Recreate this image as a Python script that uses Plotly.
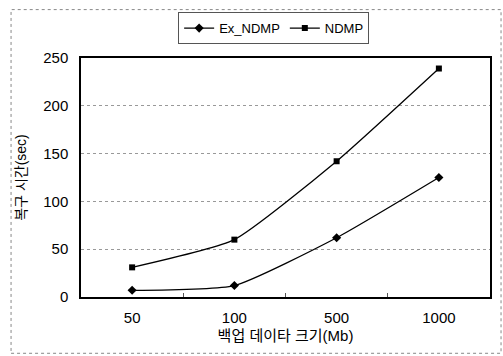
import plotly.graph_objects as go

categories = ["50", "100", "500", "1000"]
ex_ndmp = [7, 12, 62, 125]
ndmp = [31, 60, 142, 239]
y_ticks = [0, 50, 100, 150, 200, 250]

font_family = "Liberation Sans, Arial, Noto Sans CJK KR"

fig = go.Figure()
fig.add_trace(go.Scatter(
    x=categories, y=ex_ndmp, name="Ex_NDMP", mode="lines+markers",
    line=dict(color="black", width=1.3, shape="spline", smoothing=0.5),
    marker=dict(symbol="diamond", size=7, color="black"),
))
fig.add_trace(go.Scatter(
    x=categories, y=ndmp, name="NDMP", mode="lines+markers",
    line=dict(color="black", width=1.3, shape="spline", smoothing=0.5),
    marker=dict(symbol="square", size=6, color="black"),
))

fig.update_layout(
    width=503, height=356,
    margin=dict(l=81, r=13, t=55, b=59),
    paper_bgcolor="white", plot_bgcolor="white",
    font=dict(family=font_family, size=14, color="black"),
    showlegend=True,
    legend=dict(
        orientation="h", x=0.471, xanchor="center", y=1.058, yanchor="bottom",
        bordercolor="#555", borderwidth=1, bgcolor="white",
        font=dict(size=13), tracegroupgap=0, itemwidth=30,
    ),
    xaxis=dict(
        type="category", range=[-0.5, 3.5],
        showline=True, linecolor="black", linewidth=1.5, mirror=True,
        ticks="inside", tickson="boundaries", ticklen=4, tickcolor="#555",
        showgrid=False, ticklabelstandoff=6,
        title=dict(text="백업 데이타 크기(Mb)", font=dict(size=15), standoff=6),
        tickfont=dict(size=15),
    ),
    yaxis=dict(
        range=[0, 250], tickvals=y_ticks,
        showline=True, linecolor="black", linewidth=1.5, mirror=True,
        showgrid=True, gridcolor="#999", griddash="dot", gridwidth=1,
        ticks="", zeroline=False, ticklabelstandoff=8,
        title=dict(text="복구 시간(sec)", font=dict(size=14), standoff=13),
        tickfont=dict(size=15),
    ),
    shapes=[
        dict(type="rect", xref="paper", yref="paper",
             x0=-0.171, x1=1.027, y0=-0.2355, y1=1.2025,
             line=dict(color="#888", width=1, dash="dot"), layer="below"),
    ],
)

fig.write_html("out.html")
